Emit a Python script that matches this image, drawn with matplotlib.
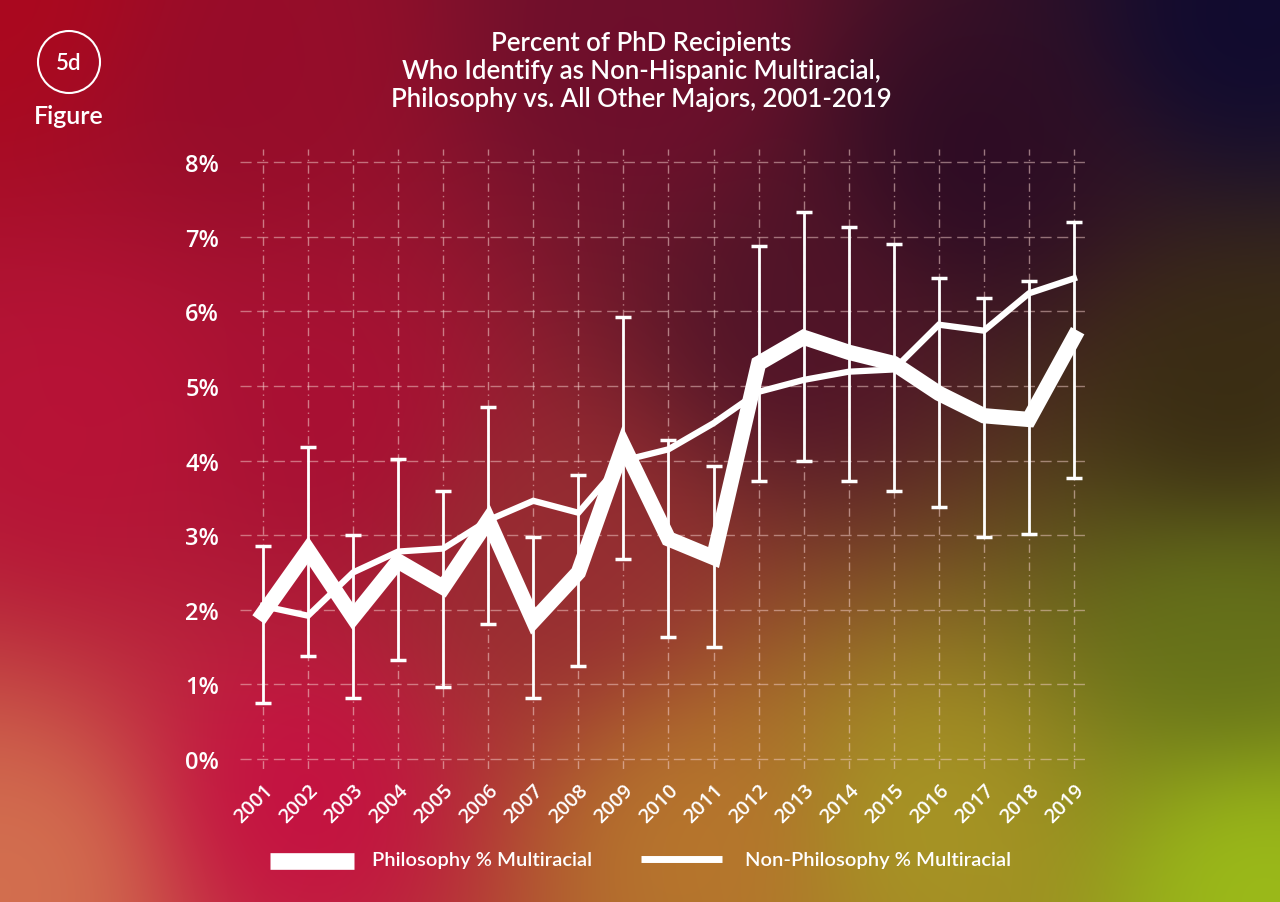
import numpy as np
import matplotlib
matplotlib.use("Agg")
import matplotlib.pyplot as plt
from matplotlib.patches import Circle

# Dados
anos = list(range(2001, 2020))
filosofia = [1.95, 2.8, 1.9, 2.65, 2.3, 3.2, 1.85, 2.5, 4.2, 2.95,
             2.7, 5.3, 5.65, 5.45, 5.3, 4.9, 4.6, 4.55, 5.65]
nao_filosofia = [2.05, 1.92, 2.5, 2.78, 2.82, 3.2, 3.46, 3.3, 4.0, 4.15,
                 4.5, 4.92, 5.08, 5.19, 5.22, 5.82, 5.74, 6.24, 6.44]
erro_inf = [0.75, 1.38, 0.82, 1.33, 0.96, 1.81, 0.82, 1.25, 2.68, 1.64,
            1.5, 3.72, 4.0, 3.72, 3.59, 3.38, 2.97, 3.01, 3.77]
erro_sup = [2.86, 4.18, 3.0, 4.02, 3.59, 4.72, 2.98, 3.8, 5.92, 4.28,
            3.92, 6.87, 7.33, 7.13, 6.9, 6.45, 6.18, 6.41, 7.19]
y_ticks = [0, 1, 2, 3, 4, 5, 6, 7, 8]

titulo = ("Percent of PhD Recipients\n"
          "Who Identify as Non-Hispanic Multiracial,\n"
          "Philosophy vs. All Other Majors, 2001-2019")

W, H = 1280, 903
fig = plt.figure(figsize=(W / 100, H / 100), dpi=100)

# Fundo em gradiente (ponderação pelo inverso da distância)
pontos = [
    (0, 0, (172, 8, 30)),
    (80, 420, (185, 18, 55)),
    (20, 880, (212, 115, 80)),
    (300, 800, (198, 14, 66)),
    (330, 420, (170, 14, 52)),
    (250, 80, (150, 12, 42)),
    (640, 60, (110, 14, 44)),
    (1250, 30, (14, 10, 48)),
    (980, 170, (42, 10, 36)),
    (1230, 400, (55, 42, 18)),
    (800, 330, (78, 18, 40)),
    (560, 560, (150, 45, 50)),
    (700, 840, (185, 120, 45)),
    (930, 820, (168, 152, 36)),
    (1230, 640, (100, 115, 25)),
    (1260, 880, (158, 192, 25)),
]
gx, gy = np.meshgrid(np.linspace(0, W, 320), np.linspace(0, H, 226))
acc = np.zeros(gx.shape + (3,))
pesos = np.zeros(gx.shape)
for px, py, cor in pontos:
    d2 = (gx - px) ** 2 + (gy - py) ** 2 + 12000.0
    w = 1.0 / d2 ** 1.6
    acc += w[..., None] * np.array(cor) / 255.0
    pesos += w
fundo = np.clip(acc / pesos[..., None], 0, 1)
ax_bg = fig.add_axes([0, 0, 1, 1])
ax_bg.imshow(fundo, extent=(0, W, H, 0), aspect="auto", interpolation="bicubic")
ax_bg.set_xlim(0, W)
ax_bg.set_ylim(H, 0)
ax_bg.axis("off")

# Selo da figura
ax_bg.add_patch(Circle((69, 63), 31, fill=False, ec="white", lw=1.5))
ax_bg.text(69, 63, "5d", color="white", fontsize=16, ha="center", va="center",
           family="Lato", fontweight="semibold")
ax_bg.text(69, 116, "Figure", color="white", fontsize=18, ha="center", va="center",
           family="Lato", fontweight="semibold")

# Título
ax_bg.text(641, 72, titulo, color="white", fontsize=18.5, ha="center", va="center",
           family="Lato", fontweight="semibold", linespacing=1.15)

# Gráfico principal
ax = fig.add_axes([240 / W, 1 - 770 / H, 850 / W, 620 / H])
ax.patch.set_alpha(0)
x0 = (263 - 240) / 45.06
ax.set_xlim(2001 - x0, 2019 + (1090 - 1074) / 45.06)
ax.set_ylim(-(770 - 760) / 74.6, 8 + (163 - 150) / 74.6)

for a in anos:
    ax.plot([a, a], [-0.13, 8.17], color="#f5d0cc", alpha=0.55, lw=1,
            ls=(0, (6, 3, 1, 3)))
for t in y_ticks:
    ax.plot([2001 - x0, 2019.36], [t, t], color="#f5d0cc", alpha=0.5, lw=1,
            ls=(0, (8, 4)))

fil = np.array(filosofia)
ax.errorbar(anos, fil, yerr=[fil - np.array(erro_inf), np.array(erro_sup) - fil],
            fmt="none", ecolor="white", elinewidth=2, capsize=6, capthick=2.5,
            zorder=3)
ax.plot(anos, nao_filosofia, color="white", lw=4.5, solid_joinstyle="miter",
        zorder=4)
ax.plot(anos, filosofia, color="white", lw=11, solid_joinstyle="miter", zorder=5)

ax.set_xticks(anos)
ax.set_xticklabels([str(a) for a in anos], rotation=45, ha="right",
                   rotation_mode="anchor", color="white", fontsize=14.5,
                   family="Open Sans", fontweight="semibold")
ax.set_yticks(y_ticks)
ax.set_yticklabels([f"{t}%" for t in y_ticks], color="white", fontsize=17,
                   family="Open Sans", fontweight="semibold")
ax.tick_params(axis="x", length=0, pad=8)
ax.tick_params(axis="y", length=0, pad=15)
for s in ax.spines.values():
    s.set_visible(False)

# Legenda
ax_bg.plot([270, 354], [862, 862], color="white", lw=12, solid_capstyle="butt")
ax_bg.text(372, 861, "Philosophy % Multiracial", color="white", fontsize=14.5,
           va="center", family="Lato", fontweight="semibold")
ax_bg.plot([641, 722], [860, 860], color="white", lw=5, solid_capstyle="butt")
ax_bg.text(745, 861, "Non-Philosophy % Multiracial", color="white", fontsize=14.5,
           va="center", family="Lato", fontweight="semibold")

fig.savefig("out.png", dpi=100)
